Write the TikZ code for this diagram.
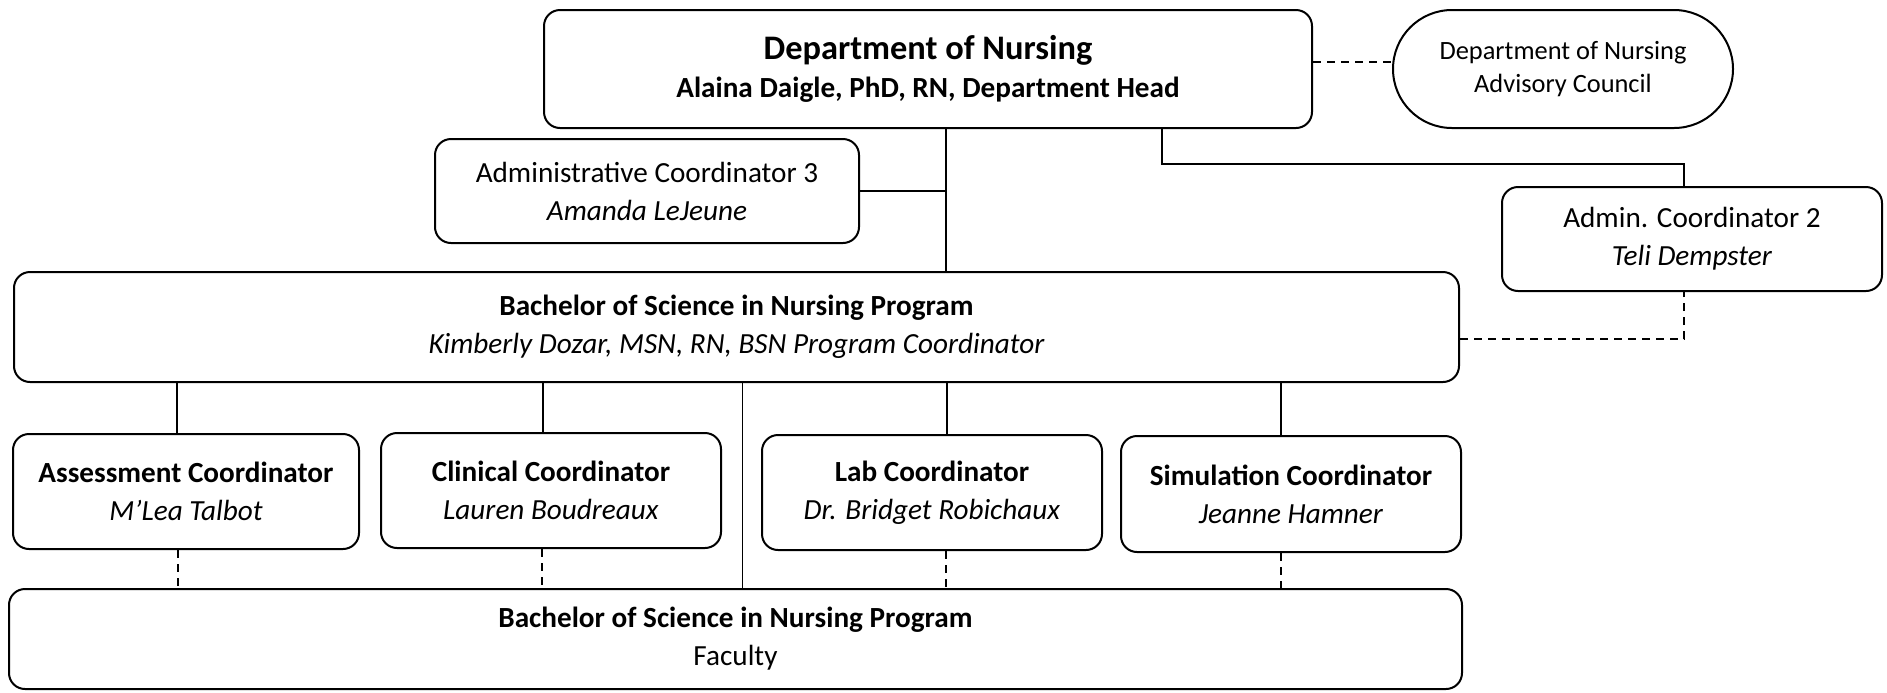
\documentclass[tikz,border=0pt]{standalone}
\usepackage{fontspec}
\setmainfont{Carlito}
\usetikzlibrary{shapes.misc}

\tikzset{
  unit/.style={draw, line width=1pt, rounded corners=8pt, align=center, inner sep=2pt,
    font=\fontsize{14.6}{19}\selectfont},
  council/.style={draw, line width=1pt, rounded rectangle, align=center, inner sep=2pt,
    font=\fontsize{13.2}{16.5}\selectfont},
  link/.style={line width=0.7pt},
  dashlink/.style={line width=0.7pt, dash pattern=on 4pt off 3pt},
}

\begin{document}
\begin{tikzpicture}[x=0.5pt, y=-0.5pt]
    \useasboundingbox (0,0) rectangle (1887,692);

    % top level
    \node[unit, minimum width=384pt, minimum height=59pt] (dept) at (928,69)
        {{\fontsize{17.2}{19}\selectfont\bfseries Department of Nursing}\\\bfseries Alaina Daigle, PhD, RN, Department Head};
    \node[council, minimum width=174pt, minimum height=59pt] (board) at (1563,69)
        {Department of Nursing\\Advisory Council};
    \node[unit, minimum width=212pt, minimum height=52pt] (admin3) at (647,191)
        {Administrative Coordinator 3\\\textit{Amanda LeJeune}};
    \node[unit, minimum width=190pt, minimum height=52pt] (admin2) at (1692,239)
        {Admin. Coordinator 2\\\textit{Teli Dempster}};

    % program
    \node[unit, minimum width=722.5pt, minimum height=55pt] (bsn) at (736.5,327)
        {\textbf{Bachelor of Science in Nursing Program}\\\textit{Kimberly Dozar, MSN, RN, BSN Program Coordinator}};

    % coordinators
    \node[unit, minimum width=173pt, minimum height=57.5pt] (assess) at (186,491.5)
        {\textbf{Assessment Coordinator}\\\textit{M’Lea Talbot}};
    \node[unit, minimum width=170pt, minimum height=57.5pt] (clinical) at (551,490.5)
        {\textbf{Clinical Coordinator}\\\textit{Lauren Boudreaux}};
    \node[unit, minimum width=170pt, minimum height=57.5pt] (lab) at (932,492.5)
        {\textbf{Lab Coordinator}\\\textit{Dr. Bridget Robichaux}};
    \node[unit, minimum width=170pt, minimum height=58pt] (sim) at (1291,494)
        {\textbf{Simulation Coordinator}\\\textit{Jeanne Hamner}};

    % faculty
    \node[unit, minimum width=726.5pt, minimum height=50pt] (faculty) at (735.5,639)
        {\textbf{Bachelor of Science in Nursing Program}\\Faculty};

    \coordinate (trunk) at ([xshift=9pt]dept.south);
    \coordinate (knee) at (1684,164);

    \draw[dashlink] ([yshift=3.5pt]dept.east) -- ([yshift=3.5pt]board.west);
    \draw[link] (trunk) -- (trunk |- bsn.north);
    \draw[link] (admin3.east) -- (admin3.east -| trunk);
    \draw[link] ([xshift=117pt]dept.south) |- (knee) -- (knee |- admin2.north);
    \draw[dashlink] ([yshift=-6pt]bsn.east) -| (knee |- admin2.south);

    \draw[link] ([xshift=-4.5pt]assess.north) -- ([xshift=-4.5pt]assess.north |- bsn.south);
    \draw[link] ([xshift=-4pt]clinical.north) -- ([xshift=-4pt]clinical.north |- bsn.south);
    \draw[link] ([xshift=7.5pt]lab.north) -- ([xshift=7.5pt]lab.north |- bsn.south);
    \draw[link] ([xshift=-5pt]sim.north) -- ([xshift=-5pt]sim.north |- bsn.south);
    \draw[link] ([xshift=3pt]bsn.south) -- ([xshift=3pt]bsn.south |- faculty.north);

    \draw[dashlink] ([xshift=-4pt]assess.south) -- ([xshift=-4pt]assess.south |- faculty.north);
    \draw[dashlink] ([xshift=-4.5pt]clinical.south) -- ([xshift=-4.5pt]clinical.south |- faculty.north);
    \draw[dashlink] ([xshift=7pt]lab.south) -- ([xshift=7pt]lab.south |- faculty.north);
    \draw[dashlink] ([xshift=-5pt]sim.south) -- ([xshift=-5pt]sim.south |- faculty.north);
\end{tikzpicture}
\end{document}
